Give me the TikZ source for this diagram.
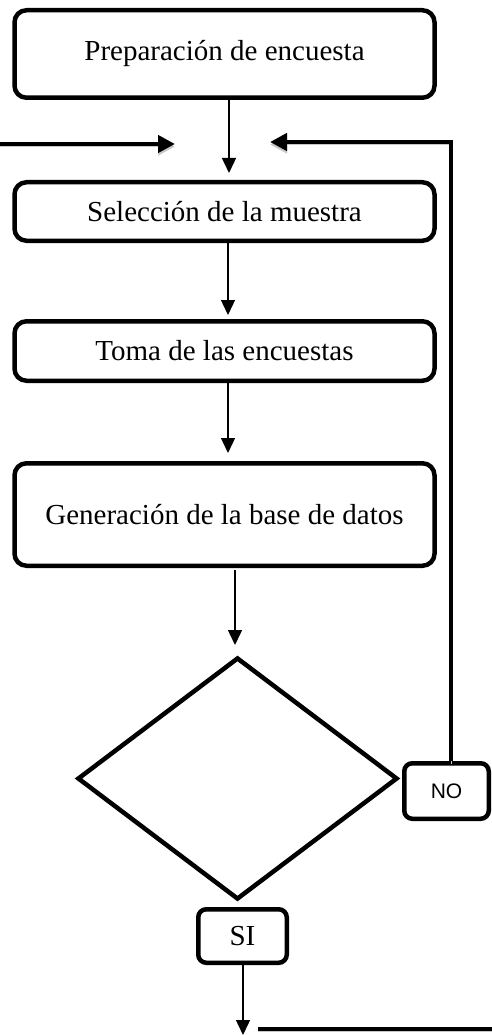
\documentclass[tikz,border=0pt]{standalone}
\usepackage{fontspec}
\setmainfont{Liberation Serif}
\newfontfamily\arialfont{Liberation Sans}
\usetikzlibrary{arrows.meta,shapes.geometric}
\begin{document}
\begin{tikzpicture}[x=1pt,y=-1pt,
  stepbox/.style={draw, line width=4.5pt, rounded corners=12pt, minimum width=420pt,
    inner sep=0pt, font=\fontsize{29}{34}\selectfont},
  smallbox/.style={draw, line width=4.5pt, rounded corners=8pt, inner sep=0pt},
  thinarr/.style={line width=1.4pt, -{Triangle[length=15pt,width=14pt]}},
  shadowed/.style={preaction={draw=black!22, transform canvas={yshift=-2.5pt}}},
  thickarr/.style={line width=4.5pt, -{Triangle[length=17pt,width=17pt]}, shadowed},
  thickline/.style={line width=4.5pt, shadowed}]
\useasboundingbox (0,0) rectangle (492,1035);

\node[stepbox, minimum height=87.5pt] (p1) at (224.5,54) {Preparación de encuesta};
\node[stepbox, minimum height=58.5pt] (p2) at (224.5,211.5) {Selección de la muestra};
\node[stepbox, minimum height=59.5pt] (p3) at (224.5,351) {Toma de las encuestas};
\node[stepbox, minimum height=102.5pt] (p4) at (224.5,514.5) {Generación de la base de datos};
\node[draw, diamond, line width=4.5pt, minimum width=320pt, minimum height=242pt, inner sep=0pt] (d) at (237.5,778.5) {};
\node[smallbox, minimum width=84.5pt, minimum height=55.5pt, font=\arialfont\fontsize{21}{24}\selectfont] (no) at (446.5,791) {NO};
\node[smallbox, minimum width=88.5pt, minimum height=53.5pt, font=\fontsize{29}{34}\selectfont] (si) at (242.5,936) {SI};

\coordinate (j1) at (229,173);
\coordinate (j3) at (228,453);
\coordinate (j4) at (235,645);
\coordinate (j5) at (243,1035);
\coordinate (inL) at (0,144);
\coordinate (inE) at (175,144);
\coordinate (fbTop) at (451,142);
\coordinate (fbEnd) at (270,142);
\coordinate (outA) at (258,1029);
\coordinate (outB) at (492,1029);

\draw[thinarr] (p1.south -| j1) -- (j1);
\draw[thinarr] ([xshift=3.5pt]p2.south) -- ([xshift=3.5pt,yshift=4pt]p3.north);
\draw[thinarr] (p3.south -| j3) -- (j3);
\draw[thinarr] ([yshift=-2pt]p4.south -| j4) -- (j4);
\draw[thinarr] (si.south -| j5) -- (j5);
\draw[thickarr] (inL) -- (inE);
\draw[thickarr] (no.north -| fbTop) -- (fbTop) -- (fbEnd);
\draw[thickline] (outA) -- (outB);
\end{tikzpicture}
\end{document}
